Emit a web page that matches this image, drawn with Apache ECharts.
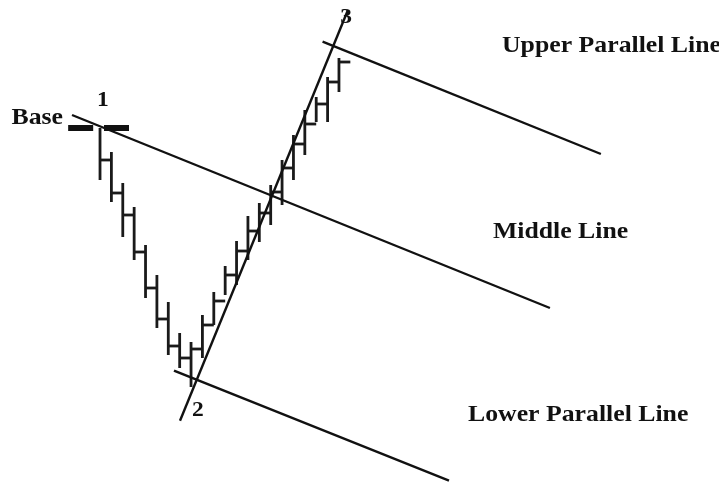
<!DOCTYPE html>
<html>
<head>
<meta charset="utf-8">
<script src="https://cdn.jsdelivr.net/npm/echarts@6/dist/echarts.min.js"></script>
<style>
  html, body { margin: 0; padding: 0; background: #fff; }
  #chart { width: 719px; height: 482px; }
</style>
</head>
<body>
<div id="chart"></div>
<script>
// bar index on x, price on y
const barIdx   = [0, 1, 2, 3, 4, 5, 6, 7, 8, 9, 10, 11, 12, 13, 14, 15, 16, 17, 18, 19, 20, 21]
const barHigh  = [35.4, 33.0, 29.9, 27.5, 23.7, 20.7, 18.0, 14.9, 14.0, 16.7, 19.0, 21.6, 24.1, 26.6, 27.9, 29.7, 32.2, 34.7, 37.2, 38.5, 40.5, 42.4]
const barLow   = [30.2, 28.0, 24.5, 22.2, 18.4, 15.4, 12.7, 11.4, 9.5, 12.4, 15.7, 18.7, 19.7, 22.2, 24.0, 25.7, 27.7, 30.2, 32.7, 36.0, 36.0, 39.0]
const barClose = [32.2, 28.9, 26.7, 23.0, 19.4, 16.3, 13.6, 12.4, 13.3, 15.7, 18.1, 20.7, 23.1, 25.1, 26.9, 29.0, 31.4, 33.8, 35.8, 37.8, 40.0, 42.0]

// pitchfork lines: [x0, y0, x1, y1]
const middleLine = [-2.46, 36.7, 39.54, 17.4]
const upperLine  = [19.56, 44.03, 44.02, 32.8]
const lowerLine  = [6.5, 11.13, 30.67, 0.13]
const pivotLine  = [7.03, 6.13, 21.79, 47.2]

// base marker at pivot 1: [xStart, xEnd, price]
const baseDash = [[-2.8, -0.6, 35.4], [0.35, 2.55, 35.4]]

// text labels: [x, price, text, align]
const labels = [
  [-3.25, 36.4, 'Base', 'right'],
  [0.26, 38.1, '1', 'center'],
  [8.61, 7.1, '2', 'center'],
  [21.62, 46.4, '3', 'center'],
  [35.33, 43.6, 'Upper Parallel Line', 'left'],
  [34.53, 25.0, 'Middle Line', 'left'],
  [32.34, 6.7, 'Lower Parallel Line', 'left']
]

const chart = echarts.init(document.getElementById('chart'))

const lineSeries = (pts) => ({
  type: 'line',
  data: [[pts[0], pts[1]], [pts[2], pts[3]]],
  showSymbol: false,
  silent: true,
  lineStyle: { color: '#111', width: 2.4 },
  z: 3
})

// point numbers are a bit smaller than the words
const fontSize = (text) => text.length === 1 ? 21 : 23

chart.setOption({
  animation: false,
  backgroundColor: '#fff',
  grid: { left: 0, right: 0, top: 0, bottom: 0 },
  xAxis: { type: 'value', min: -8.79, max: 54.4, show: false },
  yAxis: { type: 'value', min: 0, max: 48.2, show: false },
  series: [
    {
      type: 'custom',
      data: barIdx.map((x, i) => [x, barHigh[i], barLow[i], barClose[i]]),
      renderItem: (params, api) => {
        const x = api.value(0)
        const top = api.coord([x, api.value(1)])
        const bot = api.coord([x, api.value(2)])
        const c0 = api.coord([x, api.value(3)])
        const c1 = api.coord([x + 1, api.value(3)])
        const style = { stroke: '#1a1a1a', lineWidth: 2.8 }
        return {
          type: 'group',
          children: [
            { type: 'line', shape: { x1: top[0], y1: top[1], x2: bot[0], y2: bot[1] }, style },
            { type: 'line', shape: { x1: c0[0], y1: c0[1], x2: c1[0], y2: c1[1] }, style }
          ]
        }
      },
      z: 2
    },
    {
      type: 'custom',
      data: baseDash,
      renderItem: (params, api) => {
        const a = api.coord([api.value(0), api.value(2)])
        const b = api.coord([api.value(1), api.value(2)])
        return {
          type: 'line',
          shape: { x1: a[0], y1: a[1], x2: b[0], y2: b[1] },
          style: { stroke: '#111', lineWidth: 6, lineCap: 'butt' }
        }
      },
      z: 2
    },
    lineSeries(middleLine),
    lineSeries(upperLine),
    lineSeries(lowerLine),
    lineSeries(pivotLine),
    {
      type: 'custom',
      data: labels,
      renderItem: (params, api) => {
        const item = labels[params.dataIndex]
        const p = api.coord([item[0], item[1]])
        return {
          type: 'text',
          x: p[0],
          y: p[1],
          scaleX: 1.12,
          style: {
            text: item[2],
            font: 'bold ' + fontSize(item[2]) + 'px "Liberation Serif", "Times New Roman", serif',
            fill: '#111',
            align: item[3],
            verticalAlign: 'middle'
          }
        }
      },
      z: 5
    }
  ]
})
</script>
</body>
</html>
